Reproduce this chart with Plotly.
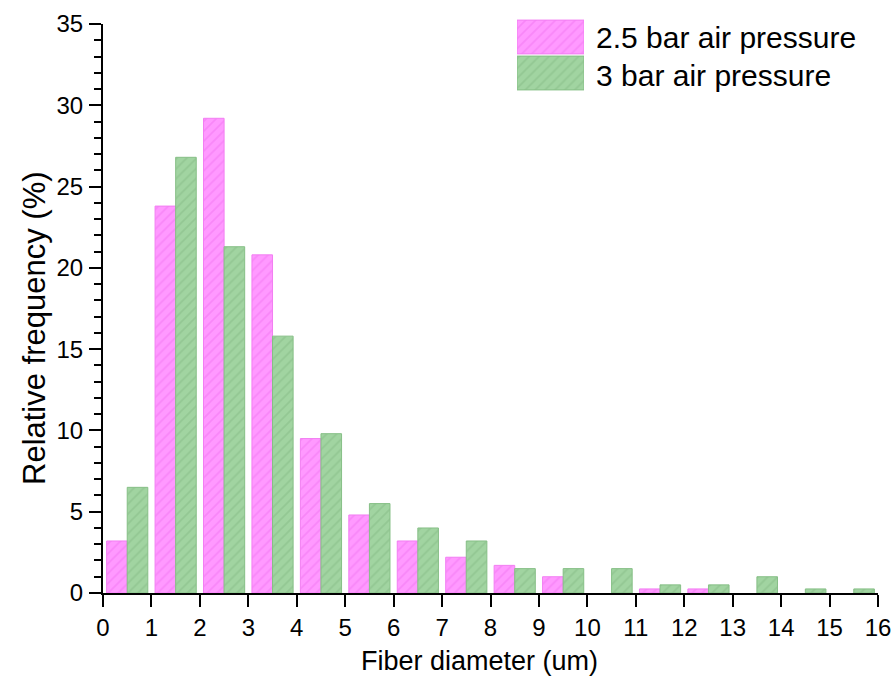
import plotly.graph_objects as go

# Data
bin_centers = [i + 0.5 for i in range(16)]
pink_vals = [3.2, 23.8, 29.2, 20.8, 9.5, 4.8, 3.2, 2.2, 1.7, 1.0, 0.0, 0.25, 0.25, 0.0, 0.0, 0.0]
green_vals = [6.5, 26.8, 21.3, 15.8, 9.8, 5.5, 4.0, 3.2, 1.5, 1.5, 1.5, 0.5, 0.5, 1.0, 0.25, 0.25]
series_names = ["2.5 bar air pressure", "3 bar air pressure"]
x_ticks = list(range(0, 17))
y_ticks = list(range(0, 36, 5))

PINK_FILL = "#ff99ff"
PINK_LINE = "#f27ef2"
PINK_HATCH = "#f274f2"
GREEN_FILL = "#a1d4a1"
GREEN_LINE = "#86bf86"
GREEN_HATCH = "#86ba86"
FONT = "Liberation Sans, Arial, sans-serif"

fig = go.Figure()

def pattern(col):
    return dict(shape="/", fgcolor=col, size=7, solidity=0.25, fillmode="overlay")

def line_widths(vals):
    return [1 if v > 0 else 0 for v in vals]

fig.add_trace(go.Bar(x=bin_centers, y=pink_vals, name=series_names[0],
                     marker=dict(color=PINK_FILL,
                                 line=dict(color=PINK_LINE, width=line_widths(pink_vals)),
                                 pattern=pattern(PINK_HATCH)), showlegend=False))
fig.add_trace(go.Bar(x=bin_centers, y=green_vals, name=series_names[1],
                     marker=dict(color=GREEN_FILL,
                                 line=dict(color=GREEN_LINE, width=line_widths(green_vals)),
                                 pattern=pattern(GREEN_HATCH)), showlegend=False))

# Legend swatches drawn as bars on a hidden auxiliary axis pair
fig.add_trace(go.Bar(y=[1], x=[1], orientation="h", width=0.94, offset=-0.47,
                     xaxis="x2", yaxis="y2",
                     marker=dict(color=PINK_FILL, line=dict(color=PINK_LINE, width=1),
                                 pattern=pattern(PINK_HATCH)),
                     showlegend=False, hoverinfo="skip"))
fig.add_trace(go.Bar(y=[0], x=[1], orientation="h", width=0.94, offset=-0.47,
                     xaxis="x2", yaxis="y2",
                     marker=dict(color=GREEN_FILL, line=dict(color=GREEN_LINE, width=1),
                                 pattern=pattern(GREEN_HATCH)),
                     showlegend=False, hoverinfo="skip"))

H = 686
W = 893
mt, mb, ml, mr = 0, 93, 103, 15
ph = H - mt - mb
pw = W - ml - mr

def py(pix):
    return (H - mb - pix) / ph

def px(pix):
    return (pix - ml) / pw

fig.update_layout(
    width=W, height=H,
    margin=dict(l=ml, r=mr, t=mt, b=mb, autoexpand=False),
    paper_bgcolor="white", plot_bgcolor="white",
    barmode="group", bargap=0.15, bargroupgap=0,
    font=dict(family=FONT, color="black"),
    xaxis=dict(range=[0, 16], tickvals=x_ticks, ticks="outside", ticklen=12, tickwidth=2,
               tickcolor="black", showline=True, linecolor="black", linewidth=2,
               showgrid=False, zeroline=False, tickfont=dict(size=24), ticklabelstandoff=0,
               domain=[0, 1], automargin=False),
    yaxis=dict(range=[0, 35], tickvals=y_ticks, ticks="outside", ticklen=12, tickwidth=2,
               tickcolor="black", showline=True, linecolor="black", linewidth=2,
               showgrid=False, zeroline=False, tickfont=dict(size=24),
               ticklabelstandoff=1, automargin=False,
               minor=dict(dtick=1, ticks="outside", ticklen=7, tickwidth=2, tickcolor="black",
                          showgrid=False),
               domain=[0, py(24)]),
    xaxis2=dict(domain=[px(517), px(584)], range=[0, 1], visible=False, anchor="y2",
                fixedrange=True, automargin=False),
    yaxis2=dict(domain=[py(91), py(19)], range=[-0.5, 1.5], visible=False,
                anchor="x2", fixedrange=True, automargin=False),
    annotations=[
        dict(text=series_names[0], x=px(594), y=py(37), xref="paper", yref="paper",
             xanchor="left", yanchor="middle", showarrow=False, font=dict(size=30)),
        dict(text=series_names[1], x=px(594), y=py(75), xref="paper", yref="paper",
             xanchor="left", yanchor="middle", showarrow=False, font=dict(size=30)),
        dict(text="Fiber diameter (um)", x=px(479), y=py(661), xref="paper", yref="paper",
             xanchor="center", yanchor="middle", showarrow=False, font=dict(size=27)),
        dict(text="Relative frequency (%)", x=px(34), y=py(328), xref="paper", yref="paper",
             xanchor="center", yanchor="middle", showarrow=False, textangle=-90,
             font=dict(size=31)),
    ],
)

fig.write_html("out.html")
